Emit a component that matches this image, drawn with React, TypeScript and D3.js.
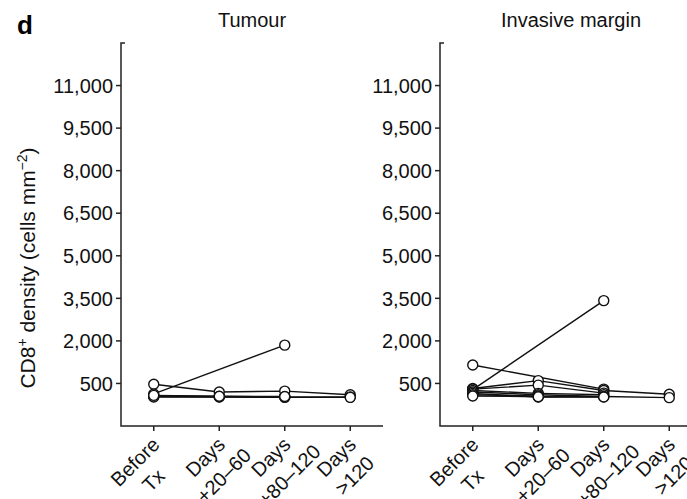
import React, { useEffect, useRef } from 'react';
import * as d3 from 'd3';

// time points on the x axis (two text lines each)
const timepoints = ['Before Tx', 'Days +20–60', 'Days +80–120', 'Days >120'];
const timeLabelLines = [
  ['Before', 'Tx'],
  ['Days', '+20–60'],
  ['Days', '+80–120'],
  ['Days', '>120'],
];

const yTicks = [500, 2000, 3500, 5000, 6500, 8000, 9500, 11000];

// CD8+ density per patient (cells mm^-2), null = not sampled
const tumourPatients: (number | null)[][] = [
  [470, 200, 230, 100],
  [130, null, 1850, null],
  [60, 40, 20, 20],
  [40, 30, 30, null],
  [20, 20, 10, 10],
  [80, 50, 40, null],
];

const marginPatients: (number | null)[][] = [
  [1150, null, 300, null],
  [280, null, 3420, null],
  [320, 600, 250, 120],
  [300, 440, 160, null],
  [250, 150, 100, null],
  [200, 100, 40, 0],
  [150, 20, 30, null],
  [100, 60, null, null],
  [60, 30, 20, null],
];

const panels = [
  { title: 'Tumour', left: 121, data: tumourPatients },
  { title: 'Invasive margin', left: 440, data: marginPatients },
];

const W = 687;
const H = 499;
const FONT = "'Liberation Sans', Arial, Helvetica, sans-serif";

export default function App() {
  const ref = useRef<SVGSVGElement>(null);

  useEffect(() => {
    const svg = d3.select(ref.current);
    svg.selectAll('*').remove();

    const top = 43;
    const bottom = 426;
    const panelWidth = 262;

    const y = d3.scaleLinear().domain([-1000, 12500]).range([bottom, top]);

    // panel letter
    svg
      .append('text')
      .attr('x', 17)
      .attr('y', 34)
      .attr('font-family', FONT)
      .attr('font-weight', 'bold')
      .attr('font-size', 26)
      .text('d');

    // y axis title
    const yt = svg
      .append('text')
      .attr('transform', 'translate(35,268) rotate(-90)')
      .attr('text-anchor', 'middle')
      .attr('font-family', FONT)
      .attr('font-size', 21)
      .attr('fill', '#111');
    yt.append('tspan').text('CD8');
    yt.append('tspan').attr('font-size', 14).attr('dy', -8).text('+');
    yt.append('tspan').attr('dy', 8).text(' density (cells mm');
    yt.append('tspan').attr('font-size', 14).attr('dy', -8).text('−2');
    yt.append('tspan').attr('dy', 8).text(')');

    panels.forEach(p => {
      const x = d3
        .scalePoint<string>()
        .domain(timepoints)
        .range([p.left, p.left + panelWidth])
        .padding(0.5);

      const g = svg.append('g');

      // title
      g.append('text')
        .attr('x', p.left + panelWidth / 2)
        .attr('y', 27)
        .attr('text-anchor', 'middle')
        .attr('font-family', FONT)
        .attr('font-size', 20)
        .attr('fill', '#111')
        .text(p.title);

      // axes lines
      g.append('path')
        .attr('d', `M${p.left + 4},${top}H${p.left}V${bottom}H${p.left + panelWidth}`)
        .attr('fill', 'none')
        .attr('stroke', '#222')
        .attr('stroke-width', 1.5);

      // y ticks
      yTicks.forEach(t => {
        g.append('line')
          .attr('x1', p.left - 5)
          .attr('x2', p.left)
          .attr('y1', y(t))
          .attr('y2', y(t))
          .attr('stroke', '#222')
          .attr('stroke-width', 1.5);
        g.append('text')
          .attr('x', p.left - 8)
          .attr('y', y(t))
          .attr('dy', '0.36em')
          .attr('text-anchor', 'end')
          .attr('font-family', FONT)
          .attr('font-size', 20)
          .attr('fill', '#111')
          .text(d3.format(',')(t));
      });

      // x ticks and two-line rotated labels
      timepoints.forEach((tp, i) => {
        const tx = x(tp)!;
        g.append('line')
          .attr('x1', tx)
          .attr('x2', tx)
          .attr('y1', bottom)
          .attr('y2', bottom + 5)
          .attr('stroke', '#222')
          .attr('stroke-width', 1.5);
        const lg = g
          .append('g')
          .attr('transform', `translate(${tx + 7},446) rotate(-45)`)
          .attr('font-family', FONT)
          .attr('font-size', 20)
          .attr('fill', '#111');
        const [l1, l2] = timeLabelLines[i];
        const t1 = lg.append('text').attr('text-anchor', 'end').text(l1);
        const w1 = (t1.node() as SVGTextElement).getComputedTextLength();
        lg.append('text')
          .attr('text-anchor', 'middle')
          .attr('x', -w1 / 2)
          .attr('y', 26)
          .text(l2);
      });

      // patient lines
      const lineGen = d3
        .line<[string, number | null]>()
        .defined(d => d[1] !== null)
        .x(d => x(d[0])!)
        .y(d => y(d[1] as number));

      p.data.forEach(vals => {
        const pts = timepoints
          .map((tp, i) => [tp, vals[i]] as [string, number | null])
          .filter(d => d[1] !== null);
        g.append('path')
          .attr('d', lineGen(pts))
          .attr('fill', 'none')
          .attr('stroke', '#111')
          .attr('stroke-width', 1.4);
      });

      p.data.forEach(vals => {
        vals.forEach((v, i) => {
          if (v === null) return;
          g.append('circle')
            .attr('cx', x(timepoints[i])!)
            .attr('cy', y(v))
            .attr('r', 5)
            .attr('fill', 'white')
            .attr('stroke', '#111')
            .attr('stroke-width', 1.4);
        });
      });
    });
  }, []);

  return (
    <svg
      ref={ref}
      width={W}
      height={H}
      style={{ position: 'absolute', left: 0, top: 0, background: 'white' }}
    />
  );
}
